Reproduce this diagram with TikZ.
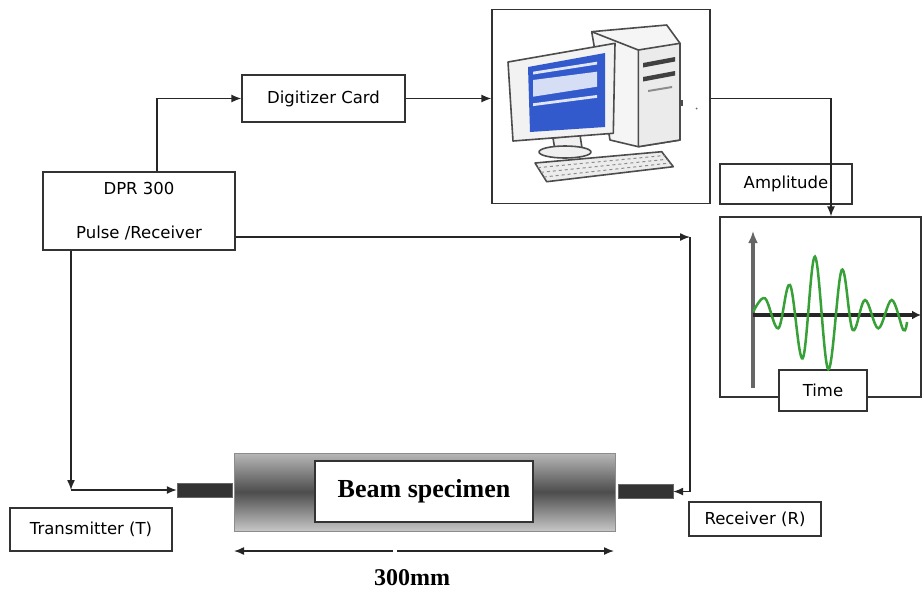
\documentclass[tikz,border=0pt]{standalone}
\usepackage{fontspec}
\setmainfont{Liberation Serif}
\newfontfamily\labelfont{DejaVu Sans}
\usetikzlibrary{arrows.meta,calc}

\definecolor{screenblue}{RGB}{50,90,205}
\definecolor{wavegreen}{RGB}{55,160,55}

\tikzset{
  box/.style={draw=black!80, line width=1.3pt, fill=white, inner sep=0pt},
  lbl/.style={font=\labelfont\fontsize{16.5}{20}\selectfont},
  arr/.style={black!85, line width=1.4pt, -{Latex[length=10pt,width=8pt]}},
  pcline/.style={draw=black!70, line width=1.6pt, line join=round},
  probe/.style={fill=black!80, draw=black!60, minimum width=55pt, minimum height=14pt, inner sep=0pt},
}

\begin{document}
\begin{tikzpicture}[x=1pt, y=-1pt]
\useasboundingbox (0,0) rectangle (923,590);

% Bloques del montaje
\node[box, lbl, minimum width=163pt, minimum height=47pt] (dig) at (323.5,98.5) {Digitizer Card};
\node[box, lbl, minimum width=192pt, minimum height=78pt, align=center] (dpr) at (139,211) {DPR 300\\[24pt]Pulse /Receiver};
\node[box, minimum width=218pt, minimum height=194pt] (pc) at (601,106.5) {};
\node[box, lbl, minimum width=132pt, minimum height=40pt] (amp) at (786,184) {Amplitude};
\node[box, minimum width=201pt, minimum height=180pt] (wave) at (820.5,307) {};
\node[box, lbl, minimum width=88pt, minimum height=41pt] (time) at (823,390.5) {Time};
\node[box, lbl, minimum width=162pt, minimum height=43pt] (tx) at (91,529.5) {Transmitter (T)};
\node[box, lbl, minimum width=132pt, minimum height=34pt] (rx) at (755,519) {Receiver (R)};

% Ordenador: torre
\filldraw[pcline, fill=gray!8] (591.7,31.7) -- (666.7,25) -- (680,43.3) -- (680,140) -- (638.3,146.7) -- (610,140) -- cycle;
\filldraw[pcline, fill=gray!16] (638.3,50) -- (680,43.3) -- (680,140) -- (638.3,146.7) -- cycle;
\draw[pcline] (591.7,31.7) -- (638.3,50);
\fill[black!75] (643,63) -- (675,57) -- (675,61.5) -- (643,67.5) -- cycle;
\fill[black!75] (643,77) -- (675,71) -- (675,75.5) -- (643,81.5) -- cycle;
\fill[black!45] (648,90) -- (672,86) -- (672,88) -- (648,92) -- cycle;
\fill[black!70] (679,100) rectangle (683,106);
\fill[black!60] (696.5,108.5) circle (1pt);

% Ordenador: monitor, pie y teclado
\filldraw[pcline, fill=gray!12] (553,138) -- (580,135) -- (582,148) -- (555,150) -- cycle;
\filldraw[pcline, fill=gray!12] (565,152) ellipse (26 and 6);
\filldraw[pcline, fill=gray!10] (508,62) -- (615,43.3) -- (613.3,133.3) -- (513,141) -- cycle;
\fill[screenblue] (528,67) -- (605,53) -- (605,127) -- (530,132) -- cycle;
\fill[white!85!screenblue] (533,71.7) -- (597,61.7) -- (597,64.5) -- (533,74.5) -- cycle;
\fill[white!80!screenblue] (533,80) -- (597,71.7) -- (597,86.7) -- (533,96.7) -- cycle;
\fill[white!85!screenblue] (533,103.3) -- (597,95) -- (597,97.8) -- (533,106.1) -- cycle;
\filldraw[pcline, fill=gray!15] (535,163) -- (661.7,151.7) -- (673.3,166.7) -- (546.7,181.7) -- cycle;
\foreach \k in {0.25,0.5,0.75}
  \draw[black!45, line width=1pt, dashed] ($(535,163)!\k!(546.7,181.7)$) -- ($(661.7,151.7)!\k!(673.3,166.7)$);

% Onda recibida
\draw[black!60, line width=3.5pt, -{Latex[length=12pt,width=10pt]}] (753,388) -- (753,231);
\draw[black!85, line width=3.5pt, -{Latex[length=9pt,width=9pt]}] (753,315) -- (921,315);
\draw[wavegreen, line width=2.5pt] plot[smooth, tension=0.6] coordinates {
  (753.3,311.7) (765,298.3) (778.3,328.3) (790,285) (802.7,358.3) (815,256.7)
  (828.3,369.3) (841.7,270) (852.7,330) (865,300) (878.3,328.3) (891.7,300) (903.3,330) (907,322)};

% Viga y transductores
\node[minimum width=381pt, minimum height=78pt, inner sep=0pt, draw=black!45,
      top color=black!28, bottom color=black!22, middle color=black!70] (beam) at (424.5,492) {};
\node[box, minimum width=218pt, minimum height=61pt,
      font=\fontsize{26}{30}\selectfont\bfseries] (spec) at (424,491.5) {Beam specimen};
\node[probe] (txp) at (204.5,490.5) {};
\node[probe] (rxp) at (645.5,491.5) {};

% Conexiones
\draw[arr] ([xshift=18pt]dpr.north) |- (dig.west);
\draw[arr] (dig.east) -- (dig.east -| pc.west);
\draw[arr] (pc.east |- dig.east) -| ([xshift=10.5pt]wave.north);
\coordinate (rbend) at (690,237);
\draw[arr] (dpr.east |- rbend) -- (rbend);
\draw[arr] (rbend) |- (rxp.east);
\coordinate (tbend) at (71,490);
\draw[arr] (dpr.south -| tbend) -- (tbend);
\draw[arr] (tbend) -- (tbend -| txp.west);

% Cota de la longitud
\coordinate (dimL) at (234,551);
\coordinate (dimR) at (614,551);
\draw[black!85, line width=1.4pt, {Latex[length=10pt,width=8pt]}-{Latex[length=10pt,width=8pt]}] (dimL) -- (dimR);
\fill[white] (393,548) rectangle (397,554);
\node[font=\fontsize{24}{28}\selectfont\bfseries] (len) at (412,578) {300mm};
\end{tikzpicture}
\end{document}
